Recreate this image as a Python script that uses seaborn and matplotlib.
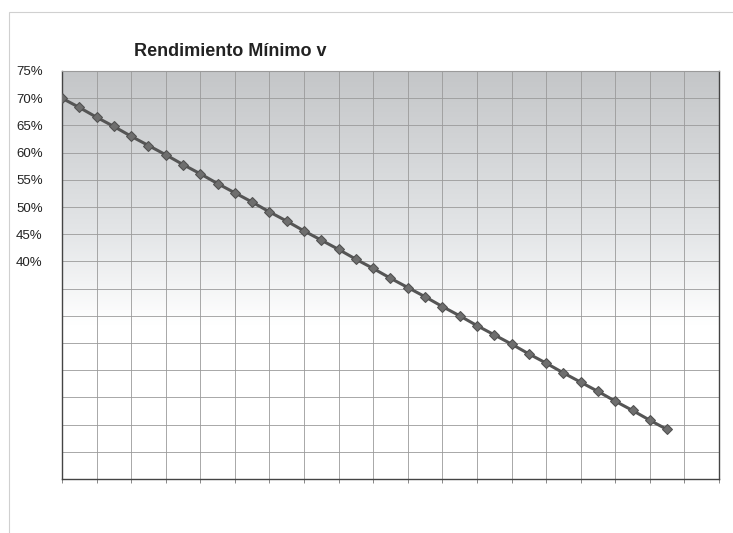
import matplotlib
matplotlib.use("Agg")
import matplotlib.pyplot as plt
import numpy as np
import pandas as pd
import seaborn as sns
from matplotlib.colors import LinearSegmentedColormap
from matplotlib.patches import Rectangle
from matplotlib.ticker import MultipleLocator

# values (percent)
step = list(range(36))
rendimiento = [
    70.0, 68.3, 66.5, 64.8, 63.0, 61.3, 59.6, 57.8, 56.1, 54.3,
    52.6, 50.9, 49.1, 47.4, 45.6, 43.9, 42.2, 40.4, 38.7, 36.9,
    35.2, 33.5, 31.7, 30.0, 28.2, 26.5, 24.8, 23.0, 21.3, 19.5,
    17.8, 16.1, 14.3, 12.6, 10.8, 9.1,
]
y_ticks = list(range(0, 80, 5))
y_labels = [f"{v}%" if v >= 40 else "" for v in y_ticks]
title = "Rendimiento Mínimo v"

df = pd.DataFrame({"step": step, "rendimiento": rendimiento})

sns.set_theme(style="white")
plt.rcParams["font.family"] = ["Liberation Sans", "DejaVu Sans"]

fig = plt.figure(figsize=(7.33, 5.33), dpi=100)
fig.patch.set_facecolor("white")

# faint outer chart border
fig.add_artist(Rectangle((9 / 733, -0.1), 1.2, (533 - 12) / 533 + 0.1,
                         transform=fig.transFigure, fill=False,
                         edgecolor="#d0d0d0", linewidth=0.8))

ax = fig.add_axes([62 / 733, 54 / 533, 657 / 733, 408 / 533])

# grey-to-white gradient plot area
cmap = LinearSegmentedColormap.from_list(
    "bg", [(0.0, "#ffffff"), (0.38, "#ffffff"), (0.6, "#e4e6e8"), (1.0, "#c4c6c8")])
grad = np.linspace(0, 1, 256).reshape(-1, 1)
ax.imshow(grad, cmap=cmap, aspect="auto", origin="lower",
          extent=[0, 1, 0, 1], transform=ax.transAxes, zorder=0)

sns.lineplot(data=df, x="step", y="rendimiento", ax=ax, color="#555555",
             linewidth=2.2, marker="D", markersize=5.5,
             markerfacecolor="#6e6e6e", markeredgecolor="#505050", zorder=3)

ax.set_xlim(0, 38)
ax.set_ylim(0, 75)
ax.xaxis.set_major_locator(MultipleLocator(2))
ax.set_yticks(y_ticks)
ax.set_yticklabels(y_labels, fontsize=9.5, color="#222222")
ax.set_xticklabels([])
ax.grid(True, color="#9a9a9a", linewidth=0.6)
for line in ax.get_xgridlines() + ax.get_ygridlines():
    line.set_zorder(1)
ax.tick_params(axis="x", bottom=True, length=3, color="#888888", width=0.7)
ax.tick_params(axis="y", left=False, pad=8)
ax.set_xlabel("")
ax.set_ylabel("")
for side in ["left", "bottom", "right"]:
    ax.spines[side].set_color("#444444")
    ax.spines[side].set_linewidth(1.0)
ax.spines["top"].set_color("#9a9a9a")
ax.spines["top"].set_linewidth(0.8)

fig.text(230 / 733, 1 - 52 / 533, title, ha="center", va="center",
         fontsize=13, fontweight="bold", color="#222222")

fig.savefig("out.png", dpi=100)
